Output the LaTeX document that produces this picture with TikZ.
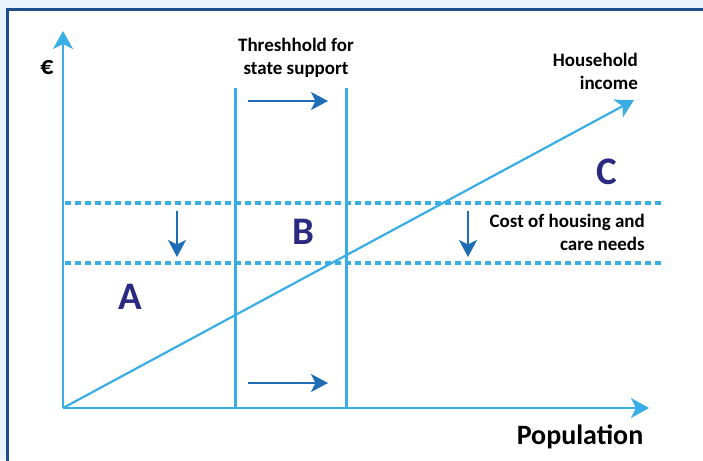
\documentclass[tikz,border=0pt]{standalone}
\usepackage{fontspec}
\setmainfont{Carlito}
\usetikzlibrary{%
    arrows.meta,%
    positioning,%
    calc%
}
\definecolor{pageblue}{HTML}{E9F4FC}
\definecolor{framenavy}{HTML}{1D4E8A}
\definecolor{lineblue}{HTML}{3AAEE4}
\definecolor{arrowblue}{HTML}{1F6DB4}
\definecolor{lettnavy}{HTML}{2B2A82}

\begin{document}
\begin{tikzpicture}[x=1pt, y=-1pt,
    axis/.style = {draw = lineblue, line width = 2.2pt, -{Stealth[length=18pt, width=20pt, inset=5pt]}},
    thresh/.style = {draw = lineblue, line width = 3pt},
    costline/.style = {draw = lineblue, line width = 4pt, dash pattern = on 6pt off 4pt},
    shiftarrow/.style = {draw = arrowblue, line width = 2pt, -{Stealth[length=17pt, width=18pt, inset=4.5pt]}},
    lbl/.style = {font = \bfseries\fontsize{19}{23}\selectfont, inner sep = 0pt},
    zone/.style = {font = \bfseries\fontsize{39}{39}\selectfont, text = lettnavy, inner sep = 0pt}]
    % Page and frame
    \fill[pageblue] (0,0) rectangle (703,460);
    \useasboundingbox (0,0) rectangle (703,460);
    \draw[framenavy, line width = 2.5pt, fill = white] (7.5,9.5) rectangle (720,480);

    % Define axis points
    \coordinate (o) at (63,408);
    \coordinate (ytip) at (63,31);
    \coordinate (xtip) at (649,408);
    \coordinate (inctip) at (634,100);
    % Define threshold lines
    \coordinate (t1top) at (235,88);
    \coordinate (t1bot) at (235,408);
    \coordinate (t2top) at (346,88);
    \coordinate (t2bot) at (346,408);
    % Define cost levels
    \coordinate (c1l) at (65,203);
    \coordinate (c1r) at (661,203);
    \coordinate (c2l) at (65,263);
    \coordinate (c2r) at (661,263);

    % Draw the cost levels
    \draw[costline] (c1l) -- (c1r);
    \draw[costline] (c2l) -- (c2r);

    % Draw the thresholds
    \draw[thresh] (t1top) -- (t1bot);
    \draw[thresh] (t2top) -- (t2bot);

    % Draw the axes and income
    \draw[axis] (o) -- (ytip);
    \draw[axis] (o) -- (xtip);
    \draw[axis] (o) -- (inctip);

    % Draw the shifts
    \coordinate (s1a) at (248,101);
    \coordinate (s1b) at (328,101);
    \coordinate (s2a) at (248,383);
    \coordinate (s2b) at (328,383);
    \coordinate (d1a) at (177,211);
    \coordinate (d1b) at (177,257);
    \coordinate (d2a) at (468,211);
    \coordinate (d2b) at (468,257);
    \draw[shiftarrow] (s1a) -- (s1b);
    \draw[shiftarrow] (s2a) -- (s2b);
    \draw[shiftarrow] (d1a) -- (d1b);
    \draw[shiftarrow] (d2a) -- (d2b);

    % Labels
    \node[lbl, font = \bfseries\fontsize{26}{26}\selectfont] (euro) at (47,68) {€};
    \node[lbl, align = center] (thr) at (296,58) {Threshhold for\\state support};
    \node[lbl, align = right, anchor = east] (inc) at (638,71) {Household\\income};
    \node[lbl, align = right, anchor = east] (cost) at (645,232) {Cost of housing and\\care needs};
    \node[lbl, font = \bfseries\fontsize{28}{28}\selectfont] (pop) at (580,437) {Population};
    \node[zone] (zA) at (130,297) {A};
    \node[zone] (zB) at (303,232) {B};
    \node[zone] (zC) at (607,172) {C};
\end{tikzpicture}
\end{document}
